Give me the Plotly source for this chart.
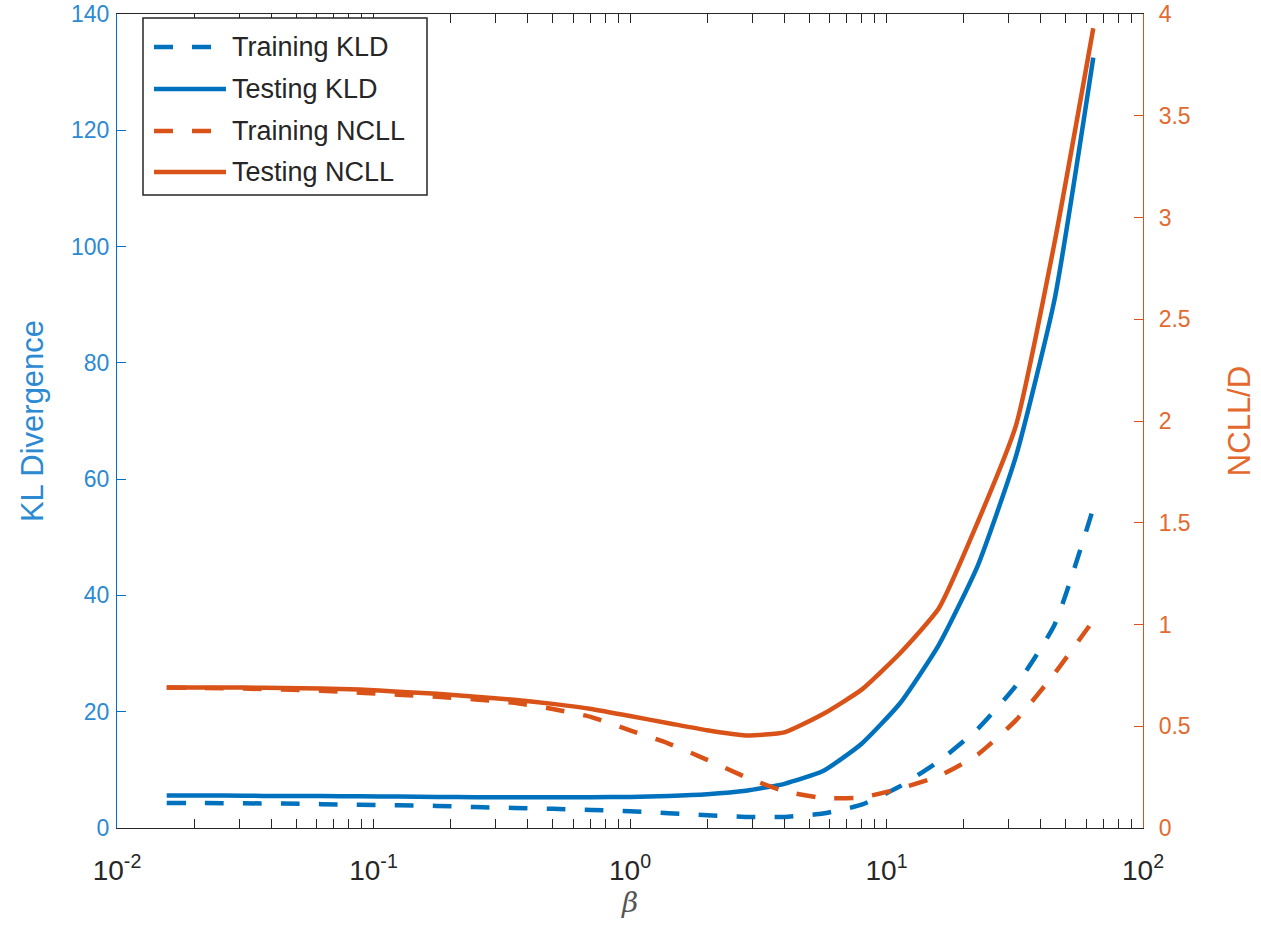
import plotly.graph_objects as go

# beta sweep (half-octave steps from 2^-6 to 2^6)
beta = [0.015625, 0.022097, 0.03125, 0.044194, 0.0625, 0.088388, 0.125,
        0.176777, 0.25, 0.353553, 0.5, 0.707107, 1.0, 1.414214, 2.0,
        2.828427, 4.0, 5.656854, 8.0, 11.313708, 16.0, 22.627417, 32.0,
        45.254834, 64.0]

train_kld = [4.3, 4.3, 4.25, 4.2, 4.1, 4.0, 3.9, 3.8, 3.6, 3.45, 3.3, 3.1,
             2.9, 2.55, 2.2, 1.9, 1.9, 2.5, 4.0, 7.2, 11.5, 17.0, 24.5,
             35.0, 55.0]
test_kld = [5.6, 5.6, 5.55, 5.5, 5.5, 5.45, 5.4, 5.35, 5.3, 5.3, 5.3, 5.3,
            5.35, 5.5, 5.8, 6.4, 7.6, 9.8, 14.5, 21.5, 31.5, 45.0, 64.0,
            91.0, 132.5]
train_ncll = [0.69, 0.688, 0.685, 0.68, 0.675, 0.665, 0.655, 0.645, 0.632,
              0.615, 0.585, 0.545, 0.48, 0.415, 0.335, 0.25, 0.18, 0.148,
              0.15, 0.195, 0.255, 0.36, 0.53, 0.76, 1.02]
test_ncll = [0.69, 0.69, 0.69, 0.688, 0.685, 0.68, 0.67, 0.66, 0.645,
             0.63, 0.61, 0.585, 0.55, 0.515, 0.48, 0.455, 0.47, 0.56,
             0.68, 0.86, 1.08, 1.5, 1.98, 2.88, 3.93]

x_tickvals = [0.01, 0.1, 1, 10, 100]
x_ticktext = ["10<sup>-2</sup>", "10<sup>-1</sup>", "10<sup>0</sup>",
              "10<sup>1</sup>", "10<sup>2</sup>"]
x_minor = [m * 10 ** e for e in range(-2, 2) for m in range(2, 10)]

legend_labels = ["Training KLD", "Testing KLD", "Training NCLL", "Testing NCLL"]

BLUE = "#0072BD"
ORANGE = "#D95319"
BLUE_TXT = "#2C8AD3"
ORANGE_TXT = "#E4692E"
DARK = "#262626"
FONT = "Liberation Sans, Arial, Helvetica, sans-serif"
DASH = "19px,19px"
LW = 4.5
SMOOTH = dict(shape="spline", smoothing=0.5)

fig = go.Figure()
fig.add_trace(go.Scatter(x=beta, y=train_kld, mode="lines", name=legend_labels[0],
                         line=dict(color=BLUE, width=LW, dash=DASH, **SMOOTH)))
fig.add_trace(go.Scatter(x=beta, y=test_kld, mode="lines", name=legend_labels[1],
                         line=dict(color=BLUE, width=LW, **SMOOTH)))
fig.add_trace(go.Scatter(x=beta, y=train_ncll, mode="lines", name=legend_labels[2],
                         yaxis="y2", line=dict(color=ORANGE, width=LW, dash=DASH, **SMOOTH)))
fig.add_trace(go.Scatter(x=beta, y=test_ncll, mode="lines", name=legend_labels[3],
                         yaxis="y2", line=dict(color=ORANGE, width=LW, **SMOOTH)))

# boxed legend in the upper-left corner of the axes
L, R, T, B = 117, 1143, 14, 828
W, H = R - L, B - T
def px(xp):
    return (xp - L) / W
def py(yp):
    return (B - yp) / H

shapes = [dict(type="rect", xref="paper", yref="paper",
               x0=px(143), x1=px(427), y0=py(195), y1=py(18),
               line=dict(color=DARK, width=1.5), fillcolor="white", layer="above")]
annotations = []
row_y = [47, 89, 131, 172]
styles = [(BLUE, DASH), (BLUE, "solid"), (ORANGE, DASH), (ORANGE, "solid")]
for yy, (col, dsh), lab in zip(row_y, styles, legend_labels):
    shapes.append(dict(type="line", xref="paper", yref="paper",
                       x0=px(154), x1=px(226), y0=py(yy), y1=py(yy),
                       line=dict(color=col, width=LW, dash=dsh), layer="above"))
    annotations.append(dict(xref="paper", yref="paper", x=px(230), y=py(yy),
                            text=lab, showarrow=False, xanchor="left",
                            yanchor="middle",
                            font=dict(family=FONT, size=27, color=DARK)))

fig.update_layout(
    width=1261, height=930,
    margin=dict(l=L, r=1261 - R, t=T, b=930 - B),
    paper_bgcolor="white", plot_bgcolor="white",
    showlegend=False,
    font=dict(family=FONT, size=24, color=DARK),
    xaxis=dict(type="log", range=[-2, 2], tickvals=x_tickvals, ticktext=x_ticktext,
               ticks="inside", ticklen=9, tickwidth=1.2, tickcolor=DARK,
               minor=dict(tickvals=x_minor, ticks="inside", ticklen=5,
                          tickwidth=1.2, tickcolor=DARK),
               showline=True, linecolor=DARK, linewidth=1.2, mirror="allticks",
               showgrid=False, zeroline=False, automargin=False,
               ticklabelstandoff=17, ticklabeloverflow="allow",
               tickfont=dict(family=FONT, size=28, color=DARK),
               title=dict(text="<i>β</i>", standoff=6,
                          font=dict(family="DejaVu Serif, serif", size=28,
                                    color="#555555"))),
    yaxis=dict(range=[0, 140], dtick=20, ticks="inside", ticklen=9,
               tickwidth=1.2, tickcolor=BLUE, showline=True, linecolor=BLUE,
               linewidth=1.2, showgrid=False, zeroline=False, automargin=False,
               ticklabeloverflow="allow", ticklabelstandoff=2,
               tickfont=dict(family=FONT, size=23, color=BLUE_TXT),
               title=dict(text="KL Divergence", standoff=18,
                          font=dict(family=FONT, size=31, color=BLUE_TXT))),
    yaxis2=dict(range=[0, 4], dtick=0.5, overlaying="y", side="right",
                ticks="inside", ticklen=9, tickwidth=1.2, tickcolor=ORANGE,
                showline=True, linecolor=ORANGE, linewidth=1.2, automargin=False,
                ticklabeloverflow="allow", ticklabelstandoff=10,
                showgrid=False, zeroline=False,
                tickfont=dict(family=FONT, size=23, color=ORANGE_TXT),
                title=dict(text="NCLL/D", standoff=38,
                           font=dict(family=FONT, size=31, color=ORANGE_TXT))),
    shapes=shapes,
    annotations=annotations,
)

fig.write_html("out.html")
